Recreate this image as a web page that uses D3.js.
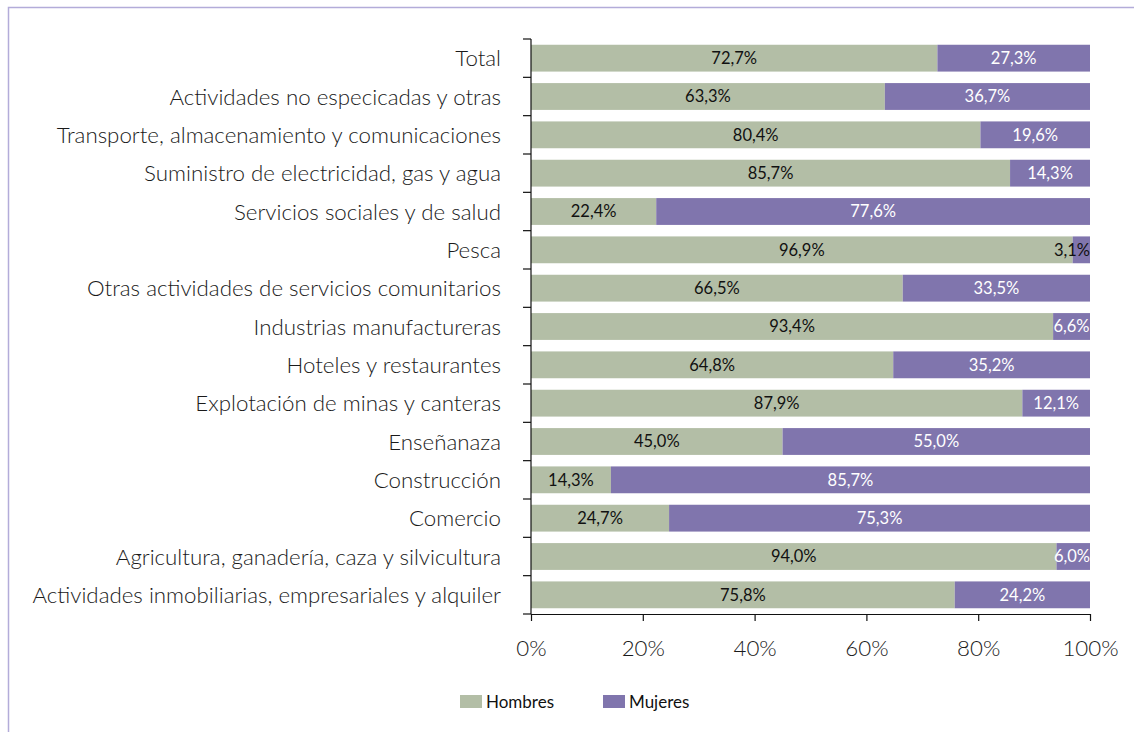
<!DOCTYPE html>
<html><head><meta charset="utf-8">
<script src="https://cdn.jsdelivr.net/npm/d3@7"></script>
<style>
body{margin:0;background:#fff;}
svg{display:block;font-family:"Lato",sans-serif;}
</style></head>
<body><svg id="c" width="1134" height="732"></svg>
<script>
const categories = [
  "Total",
  "Actividades no especicadas y otras",
  "Transporte, almacenamiento y comunicaciones",
  "Suministro de electricidad, gas y agua",
  "Servicios sociales y de salud",
  "Pesca",
  "Otras actividades de servicios comunitarios",
  "Industrias manufactureras",
  "Hoteles y restaurantes",
  "Explotación de minas y canteras",
  "Enseñanaza",
  "Construcción",
  "Comercio",
  "Agricultura, ganadería, caza y silvicultura",
  "Actividades inmobiliarias, empresariales y alquiler"
];
const hombres = [72.7,63.3,80.4,85.7,22.4,96.9,66.5,93.4,64.8,87.9,45.0,14.3,24.7,94.0,75.8];
const mujeres = [27.3,36.7,19.6,14.3,77.6,3.1,33.5,6.6,35.2,12.1,55.0,85.7,75.3,6.0,24.2];
const seriesNames = ["Hombres","Mujeres"];
const xTicks = [0,20,40,60,80,100];

const colors = {Hombres:"#b3bea6", Mujeres:"#8075ad"};
const svg = d3.select("#c");

// frame
svg.append("path").attr("d","M8.5,732 V7.5 H1134").attr("fill","none")
  .attr("stroke","#b3acd9").attr("stroke-width",1.5);

const top0 = 39, axisY = 614;
const x = d3.scaleLinear().domain([0,100]).range([531,1090]);
const y = d3.scaleBand().domain(categories).range([top0,axisY]).paddingInner(0.3).paddingOuter(0.15);

const rows = categories.map((c,i)=>({cat:c, Hombres:hombres[i], Mujeres:mujeres[i]}));
const stack = d3.stack().keys(seriesNames)(rows);

const fmt = v => v.toFixed(1).replace(".",",")+"%";

stack.forEach(layer=>{
  const g = svg.append("g");
  g.selectAll("rect").data(layer).join("rect")
    .attr("x",d=>x(d[0])).attr("width",d=>x(d[1])-x(d[0]))
    .attr("y",d=>y(d.data.cat)).attr("height",y.bandwidth())
    .attr("fill",colors[layer.key]);
});

stack.forEach(layer=>{
  const g = svg.append("g");
  g.selectAll("text").data(layer).join("text")
    .attr("y",d=>y(d.data.cat)+y.bandwidth()/2)
    .attr("dy","0.36em")
    .attr("font-size",16.5)
    .attr("fill",d=>{
      if(layer.key==="Hombres") return "#111";
      return (x(d[1])-x(d[0]))<25 ? "#111" : "#fff";
    })
    .text(d=>fmt(d[1]-d[0]))
    .each(function(d){
      const w = this.getComputedTextLength();
      let cx = (x(d[0])+x(d[1]))/2;
      const maxR = x(100);
      if(cx + w/2 > maxR) cx = maxR - w/2;
      d3.select(this).attr("x",cx).attr("text-anchor","middle");
    });
});

// y axis
const yAxis = svg.append("g").attr("transform","translate(531,0)");
yAxis.append("line").attr("x1",0).attr("x2",0).attr("y1",top0).attr("y2",axisY).attr("stroke","#111").attr("stroke-width",1.2);
const bounds = d3.range(categories.length+1).map(i=>top0+i*(axisY-top0)/categories.length);
yAxis.selectAll("line.t").data(bounds).join("line").attr("class","t")
  .attr("x1",-8).attr("x2",0).attr("y1",d=>d).attr("y2",d=>d).attr("stroke","#111").attr("stroke-width",1.2);

const labG = svg.append("g");
labG.selectAll("text").data(categories).join("text")
  .attr("x",501).attr("y",d=>y(d)+y.bandwidth()/2).attr("dy","0.36em")
  .attr("text-anchor","end").attr("fill","#1a1a1a").attr("font-size",20).attr("font-weight",300)
  .text(d=>d);
let maxW = 0; labG.selectAll("text").each(function(){maxW=Math.max(maxW,this.getComputedTextLength());});
const fs = 20*469/maxW;
labG.selectAll("text").attr("font-size",fs);

// x axis
const xAxis = svg.append("g").attr("transform",`translate(0,${axisY})`)
  .call(d3.axisBottom(x).tickValues(xTicks).tickFormat(d=>d+"%").tickSize(7).tickSizeOuter(0));
xAxis.select(".domain").attr("stroke","#111").attr("stroke-width",1.2);
xAxis.selectAll(".tick line").attr("stroke","#111").attr("stroke-width",1.2);
xAxis.selectAll(".tick text").attr("font-size",fs).attr("fill","#1a1a1a").attr("font-weight",300)
  .attr("font-family","Lato,sans-serif").attr("y",34).attr("dy","0.36em");

// legend
const leg = svg.append("g");
const legX = [460,603];
seriesNames.forEach((s,i)=>{
  leg.append("rect").attr("x",legX[i]).attr("y",695).attr("width",22).attr("height",13).attr("fill",colors[s]);
  leg.append("text").attr("x",legX[i]+26).attr("y",702).attr("dy","0.36em").attr("font-size",17).attr("fill","#111").text(s);
});
</script></body></html>
